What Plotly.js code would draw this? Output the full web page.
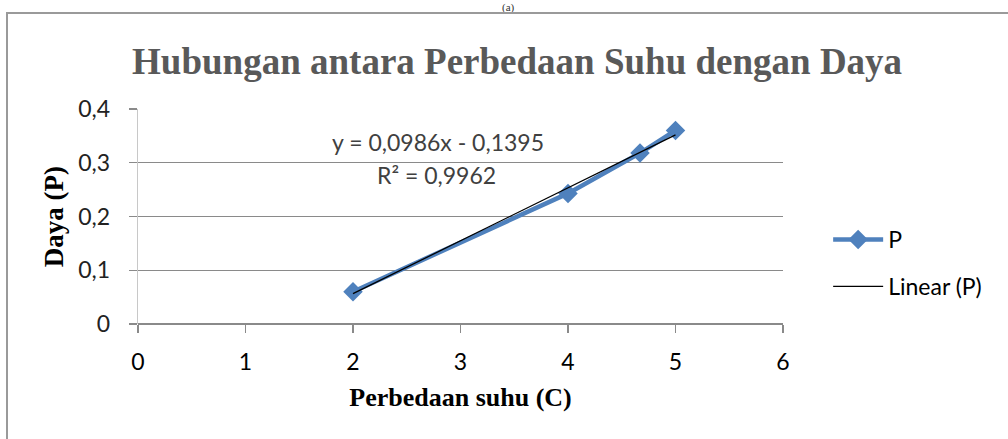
<!DOCTYPE html>
<html>
<head>
<meta charset="utf-8">
<script src="https://cdn.plot.ly/plotly-3.0.1.min.js"></script>
<style>
  html, body { margin: 0; padding: 0; background: #fff; }
  #chart { width: 1008px; height: 439px; }
  #frame { position: absolute; left: 6px; top: 12px; width: 1010px; height: 440px;
           border-left: 2px solid #9a9a9a; border-top: 2px solid #9a9a9a; pointer-events: none; }
</style>
</head>
<body>
<div id="chart"></div>
<div id="frame"></div>
<script>
// Data
const tempDiff = [2, 4, 4.67, 5];              // Perbedaan suhu (C)
const power    = [0.060, 0.243, 0.318, 0.360]; // Daya (P)
const xTicks   = [0, 1, 2, 3, 4, 5, 6];
const yTicks   = [0, 0.1, 0.2, 0.3, 0.4];
const yTickText = ["0", "0,1", "0,2", "0,3", "0,4"];
const eqLabel  = ["y = 0,0986x - 0,1395", "R² = 0,9962"];

// Least-squares linear trend (as the spreadsheet's "Linear (P)")
const n = tempDiff.length;
const mx = tempDiff.reduce((a, b) => a + b, 0) / n;
const my = power.reduce((a, b) => a + b, 0) / n;
let sxy = 0, sxx = 0;
for (let i = 0; i < n; i++) { sxy += (tempDiff[i] - mx) * (power[i] - my); sxx += (tempDiff[i] - mx) ** 2; }
const slope = sxy / sxx, intercept = my - slope * mx;
const trendX = [Math.min(...tempDiff), Math.max(...tempDiff)];
const trendY = trendX.map(x => slope * x + intercept);

const traces = [
  {
    x: tempDiff, y: power, name: 'P', type: 'scatter', mode: 'lines+markers',
    legendgroup: 'a',
    line: { color: '#4f81bd', width: 4.5 },
    marker: { symbol: 'diamond', size: 15, color: '#4f81bd' }
  },
  {
    x: trendX, y: trendY, name: 'Linear (P)', type: 'scatter', mode: 'lines',
    legendgroup: 'b',
    line: { color: '#000000', width: 1.3 }
  }
];

const serif = '"Liberation Serif", "Times New Roman", serif';
const sans = 'Lato, "Open Sans", sans-serif';

const layout = {
  width: 1008, height: 439,
  margin: { l: 138, r: 225, t: 109, b: 115 },
  paper_bgcolor: '#ffffff', plot_bgcolor: '#ffffff',
  separators: ',.',
  showlegend: true,
  title: {
    text: '<b>Hubungan antara Perbedaan Suhu dengan Daya</b>',
    font: { family: serif, size: 37, color: '#595959' },
    x: 0.513, xanchor: 'center', y: 0.862, yanchor: 'middle'
  },
  xaxis: {
    range: [0, 6], tickvals: xTicks, ticktext: xTicks.map(String),
    showgrid: false, zeroline: false,
    showline: false,
    ticks: 'outside', ticklen: 8, tickcolor: '#8a8a8a', tickwidth: 1.3,
    ticklabelstandoff: 9,
    tickfont: { family: sans, size: 23, color: '#000' },
    title: { text: '<b>Perbedaan suhu (C)</b>', font: { family: serif, size: 26, color: '#000' }, standoff: 14 }
  },
  yaxis: {
    range: [0, 0.4], tickvals: yTicks, ticktext: yTickText,
    showgrid: true, gridcolor: '#8a8a8a', gridwidth: 1.3,
    zeroline: true, zerolinecolor: '#8a8a8a', zerolinewidth: 1.6,
    showline: true, linecolor: '#c8c8c8', linewidth: 1.3,
    ticks: 'outside', ticklen: 8, tickcolor: '#8a8a8a', tickwidth: 1.3,
    ticklabelstandoff: 14,
    tickfont: { family: sans, size: 23, color: '#222' },
    title: { text: '<b>Daya (P)</b>', font: { family: serif, size: 27, color: '#000' }, standoff: 6 }
  },
  legend: {
    x: 1.07, xanchor: 'left', y: 0.284, yanchor: 'middle',
    font: { family: sans, size: 23, color: '#000' },
    itemwidth: 50, tracegroupgap: 14, bgcolor: 'rgba(0,0,0,0)'
  },
  annotations: [
    { xref: 'x', yref: 'y', x: 2.79, y: 0.3386, text: eqLabel[0], showarrow: false,
      font: { family: sans, size: 23, color: '#404040' }, xanchor: 'center', yanchor: 'middle' },
    { xref: 'x', yref: 'y', x: 2.78, y: 0.277, text: eqLabel[1], showarrow: false,
      font: { family: sans, size: 23, color: '#404040' }, xanchor: 'center', yanchor: 'middle' },
    { xref: 'paper', yref: 'paper', x: 0.574, y: 1.505, text: '(a)', showarrow: false, borderpad: 0,
      font: { family: serif, size: 11, color: '#333' }, xanchor: 'center', yanchor: 'top' }
  ]
};

Plotly.newPlot('chart', traces, layout, { displayModeBar: false, staticPlot: true });
</script>
</body>
</html>
